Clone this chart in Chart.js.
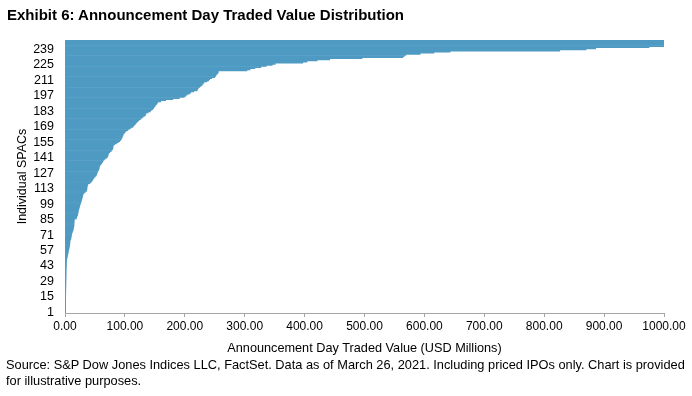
<!DOCTYPE html>
<html>
<head>
<meta charset="utf-8">
<script src="https://cdn.jsdelivr.net/npm/chart.js@4.4.1/dist/chart.umd.min.js"></script>
<style>
  html, body { margin: 0; padding: 0; background: #fff; }
  #wrap { position: relative; width: 692px; height: 396px; font-family: "Liberation Sans", Arial, sans-serif; color: #000; }
  #title { position: absolute; left: 7px; top: 6px; font-size: 15px; font-weight: bold; white-space: nowrap; }
  #source { position: absolute; left: 6px; top: 357px; font-size: 12.8px; line-height: 16px; white-space: nowrap; }
  canvas { position: absolute; left: 0; top: 0; }
</style>
</head>
<body>
<div id="wrap">
  <canvas id="myChart" width="692" height="396"></canvas>
  <div id="title">Exhibit 6: Announcement Day Traded Value Distribution</div>
  <div id="source">Source: S&amp;P Dow Jones Indices LLC, FactSet. Data as of March 26, 2021. Including priced IPOs only. Chart is provided<br>for illustrative purposes.</div>
</div>
<script>
// traded value on announcement day, one value per SPAC, sorted ascending (USD millions)
const tradedValue = [
  0.4, 0.5, 0.5, 0.6, 0.6, 0.7, 0.7, 0.8, 0.8, 0.9,
  0.9, 1.0, 1.0, 1.0, 1.1, 1.1, 1.1, 1.2, 1.2, 1.2,
  1.3, 1.3, 1.3, 1.4, 1.4, 1.4, 1.5, 1.5, 1.5, 1.6,
  1.6, 1.6, 1.7, 1.7, 1.7, 1.8, 1.8, 1.9, 1.9, 2.0,
  2.0, 2.1, 2.1, 2.2, 2.3, 2.4, 2.5, 2.7, 2.9, 3.2,
  3.6, 4.0, 4.4, 4.8, 5.1, 5.5, 5.9, 6.3, 6.7, 7.1,
  7.5, 7.8, 8.0, 8.2, 8.3, 8.4, 9.5, 10.0, 10.1, 10.4,
  10.8, 11.2, 11.7, 12.5, 13.2, 13.6, 14.0, 14.5, 14.8, 15.0,
  15.0, 15.1, 15.2, 15.4, 15.6, 18.8, 19.5, 20.0, 21.0, 21.3,
  21.6, 21.9, 22.3, 22.8, 23.4, 23.9, 24.4, 24.9, 25.4, 26.0,
  26.7, 27.2, 27.8, 28.3, 28.8, 29.4, 29.8, 30.2, 31.7, 33.8,
  35.8, 36.4, 36.6, 36.8, 37.1, 37.5, 38.4, 41.5, 43.6, 45.0,
  46.2, 47.5, 48.6, 50.5, 52.0, 53.0, 53.4, 54.0, 55.0, 56.2,
  56.8, 57.1, 57.6, 58.4, 60.0, 61.2, 62.5, 63.4, 65.0, 67.0,
  70.1, 71.0, 71.8, 72.2, 73.0, 74.8, 77.0, 78.5, 79.5, 80.1,
  80.2, 80.6, 82.8, 86.0, 89.0, 91.2, 92.8, 94.2, 95.0, 95.8,
  96.5, 97.2, 98.5, 100.2, 101.8, 104.8, 107.5, 110.0, 113.3, 114.6,
  116.8, 118.2, 120.0, 121.8, 123.5, 126.0, 128.2, 130.5, 133.5, 134.5,
  135.2, 139.0, 142.5, 144.0, 146.5, 148.0, 149.2, 150.5, 152.0, 153.6,
  155.0, 160.0, 168.0, 180.0, 191.0, 199.0, 201.5, 204.0, 207.5, 210.0,
  215.0, 220.5, 221.5, 222.5, 225.0, 227.0, 229.0, 230.5, 232.0, 237.0,
  240.0, 241.5, 245.0, 250.0, 251.5, 252.5, 254.5, 255.5, 256.0, 303.8,
  309, 317, 327, 336, 346, 351, 397, 404, 421, 442,
  496, 564, 566, 569, 593, 616, 643, 826, 870, 886,
  975, 1000, 1060, 1180, 1350, 1620, 2150
];
// SPAC numbers 1..N on the category axis
const spacs = tradedValue.map((v, i) => String(i + 1));
const labelEvery = 14;
const xTicks = [0, 100, 200, 300, 400, 500, 600, 700, 800, 900, 1000];

const axisGrey = '#A6A6A6';
const barBlue = '#4E9AC2';

const ctx = document.getElementById('myChart').getContext('2d');
const myChart = new Chart(ctx, {
  type: 'bar',
  data: {
    labels: spacs,
    datasets: [{
      data: tradedValue,
      backgroundColor: barBlue,
      borderWidth: 0,
      barPercentage: 1,
      categoryPercentage: 1,
    }]
  },
  options: {
    indexAxis: 'y',
    responsive: false,
    animation: false,
    layout: {
      padding: { left: 0, right: 28, top: 40, bottom: 36 }
    },
    scales: {
      y: {
        reverse: true,
        afterFit: (scale) => {
          scale.width = 65;
        },
        grid: {
          display: true,
          drawOnChartArea: false,
          drawTicks: false,
        },
        border: { color: axisGrey, width: 1 },
        ticks: {
          autoSkip: false,
          padding: 11,
          color: '#000',
          font: { family: 'Liberation Sans', size: 12.5 },
          callback: function(value, index) {
            return index % labelEvery === 0 ? spacs[index] : null;
          }
        },
        title: {
          display: true,
          text: 'Individual SPACs',
          color: '#000',
          font: { family: 'Liberation Sans', size: 12.5 },
          padding: { top: 15, bottom: 0 }
        }
      },
      x: {
        min: 0,
        max: 1000,
        afterFit: (scale) => {
          scale.height = 47;
        },
        afterBuildTicks: (scale) => {
          scale.ticks = xTicks.map(v => ({ value: v }));
        },
        grid: {
          drawOnChartArea: false,
          drawTicks: true,
          tickLength: 4,
          color: axisGrey,
        },
        border: { color: axisGrey, width: 1 },
        ticks: {
          padding: 2,
          color: '#000',
          maxRotation: 0,
          font: { family: 'Liberation Sans', size: 12 },
          callback: (value) => Number(value).toFixed(2)
        },
        title: {
          display: true,
          text: 'Announcement Day Traded Value (USD Millions)',
          color: '#000',
          font: { family: 'Liberation Sans', size: 12.7 },
          padding: { top: 0, bottom: 4 }
        }
      }
    },
    plugins: {
      legend: { display: false },
      tooltip: { enabled: false }
    }
  }
});
</script>
</body>
</html>
